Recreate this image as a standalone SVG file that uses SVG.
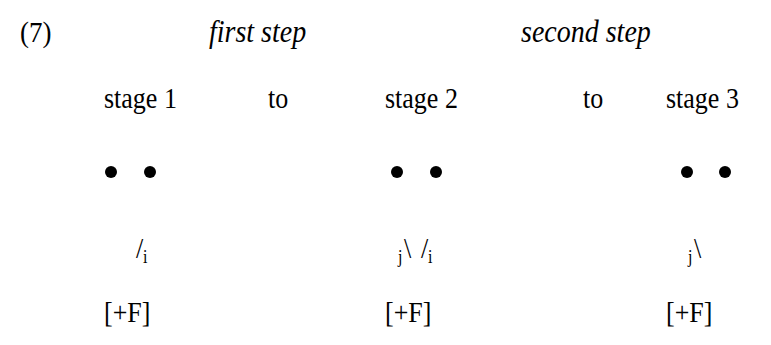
<svg xmlns="http://www.w3.org/2000/svg" width="771" height="345" viewBox="0 0 771 345">
  <style>
    .t { font-family: 'Liberation Serif', 'Times New Roman', serif; font-size: 26px; fill: #000; }
    .h { font-family: 'Liberation Serif', 'Times New Roman', serif; font-size: 27px; fill: #000; }
    .it { font-family: 'Liberation Serif', 'Times New Roman', serif; font-size: 28px; font-style: italic; fill: #000; }
    .sub { font-family: 'Liberation Serif', 'Times New Roman', serif; font-size: 16px; fill: #000; }
    .dot { fill: #000; }
  </style>
  <rect width="771" height="345" fill="#fff"/>

  <!-- header row (type set slightly tall: y scaled about the baseline) -->
  <g id="header">
    <g transform="translate(20,42) scale(1,1.12)"><text class="h">(7)</text></g>
    <g transform="translate(209,42) scale(1,1.12)"><text class="it">first step</text></g>
    <g transform="translate(521,42) scale(1,1.12)"><text class="it">second step</text></g>
  </g>

  <!-- stage labels -->
  <g id="stages">
    <g transform="translate(104,108) scale(1,1.15)"><text class="t">stage 1</text></g>
    <g transform="translate(268,108) scale(1,1.15)"><text class="t">to</text></g>
    <g transform="translate(385,108) scale(1,1.15)"><text class="t">stage 2</text></g>
    <g transform="translate(583,108) scale(1,1.15)"><text class="t">to</text></g>
    <g transform="translate(666,108) scale(1,1.15)"><text class="t">stage 3</text></g>
  </g>

  <!-- stage 1 -->
  <g id="stage1">
    <circle class="dot" cx="111" cy="172" r="6"/>
    <circle class="dot" cx="150" cy="172" r="6"/>
    <g transform="translate(136,258) scale(1,1.12)"><text class="t">/</text></g>
    <g transform="translate(143,263) scale(1,1.12)"><text class="sub">i</text></g>
    <g transform="translate(104,322) scale(1,1.15)"><text class="t">[+F]</text></g>
  </g>

  <!-- stage 2 -->
  <g id="stage2">
    <circle class="dot" cx="397" cy="172" r="6"/>
    <circle class="dot" cx="436" cy="172" r="6"/>
    <g transform="translate(398,263) scale(1,1.12)"><text class="sub">j</text></g>
    <g transform="translate(404,258) scale(1,1.12)"><text class="t">\</text></g>
    <g transform="translate(421,258) scale(1,1.12)"><text class="t">/</text></g>
    <g transform="translate(428,263) scale(1,1.12)"><text class="sub">i</text></g>
    <g transform="translate(385,322) scale(1,1.15)"><text class="t">[+F]</text></g>
  </g>

  <!-- stage 3 -->
  <g id="stage3">
    <circle class="dot" cx="687" cy="172" r="6"/>
    <circle class="dot" cx="725" cy="172" r="6"/>
    <g transform="translate(688,263) scale(1,1.12)"><text class="sub">j</text></g>
    <g transform="translate(694,258) scale(1,1.12)"><text class="t">\</text></g>
    <g transform="translate(666,322) scale(1,1.15)"><text class="t">[+F]</text></g>
  </g>
</svg>
